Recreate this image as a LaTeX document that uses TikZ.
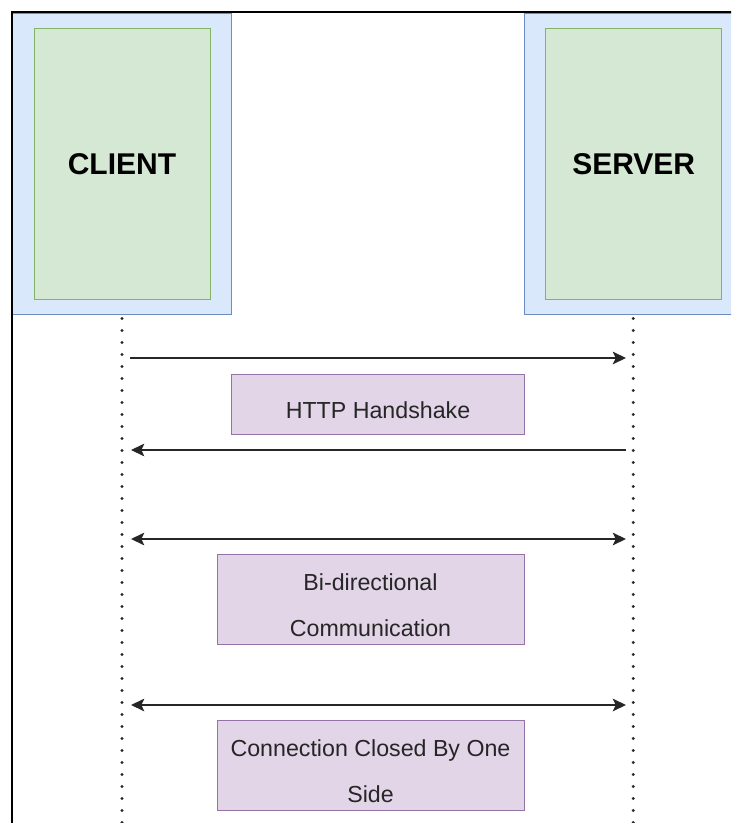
\documentclass[tikz,border=0pt]{standalone}
\usepackage{fontspec}
\setmainfont{Liberation Sans}
\usetikzlibrary{arrows.meta}

\definecolor{hostfill}{HTML}{DAE8FC}
\definecolor{hostline}{HTML}{6C8EBF}
\definecolor{namefill}{HTML}{D5E8D4}
\definecolor{nameline}{HTML}{82B366}
\definecolor{msgfill}{HTML}{E1D5E7}
\definecolor{msgline}{HTML}{9673A6}

\begin{document}
\begin{tikzpicture}[
  x=0.75pt,
  y=-0.75pt,
  hostbox/.style={
    draw=hostline,
    fill=hostfill,
    line width=0.75pt,
    inner sep=0pt,
    minimum width=164.25pt,
    minimum height=225pt
  },
  hostname/.style={
    draw=nameline,
    fill=namefill,
    line width=0.75pt,
    inner sep=0pt,
    minimum width=132pt,
    minimum height=203.25pt,
    font=\fontsize{22.5pt}{27pt}\selectfont\bfseries
  },
  msgbox/.style={
    draw=msgline,
    fill=msgfill,
    line width=0.75pt,
    inner sep=0pt
  },
  msgtext/.style={
    font=\fontsize{17.4pt}{34.5pt}\selectfont,
    text=black!85,
    align=center,
    yshift=-4.5pt
  },
  lifeline/.style={
    line width=2.4pt,
    line cap=round,
    dash pattern=on 0pt off 9pt,
    black!85
  },
  msg/.style={
    line width=1.2pt,
    black!85
  }
]
\useasboundingbox (0,0) rectangle (731,823);
\clip (0,0) rectangle (731,823);

% hosts
\node[hostbox] (clientbox) at (122.2,164) {};
\node[hostname] (client) at (122,163.8) {CLIENT};
\node[hostbox] (serverbox) at (633.7,164) {};
\node[hostname] (server) at (633.7,163.8) {SERVER};

% lifelines
\coordinate (clienttop) at (122,318.5);
\coordinate (clientbot) at (122,840);
\coordinate (servertop) at (633.3,318.5);
\coordinate (serverbot) at (633.3,840);
\draw[lifeline] (clienttop) -- (clientbot);
\draw[lifeline] (servertop) -- (serverbot);

% message boxes
\node[msgbox, minimum width=219.5pt, minimum height=45pt,
  label={[msgtext]center:HTTP Handshake}] (handshake) at (378,404) {};
\node[msgbox, minimum width=230.25pt, minimum height=67.5pt,
  label={[msgtext]center:{Bi-directional\\Communication}}] (bidir) at (370.5,599) {};
\node[msgbox, minimum width=230.25pt, minimum height=67.5pt,
  label={[msgtext]center:{Connection Closed By One\\Side}}] (closed) at (370.5,765) {};

% messages
\coordinate (c1) at (130,358);
\coordinate (s1) at (626,358);
\coordinate (c2) at (131,450);
\coordinate (s2) at (626,450);
\coordinate (c3) at (131,539);
\coordinate (s3) at (626,539);
\coordinate (c4) at (131,705);
\coordinate (s4) at (626,705);
\draw[msg,-{Stealth[length=10pt,width=9.5pt,inset=2.3pt]}] (c1) -- (s1);
\draw[msg,-{Stealth[length=10pt,width=9.5pt,inset=2.3pt]}] (s2) -- (c2);
\draw[msg,{Stealth[length=10pt,width=9.5pt,inset=2.3pt]}-{Stealth[length=10pt,width=9.5pt,inset=2.3pt]}] (c3) -- (s3);
\draw[msg,{Stealth[length=10pt,width=9.5pt,inset=2.3pt]}-{Stealth[length=10pt,width=9.5pt,inset=2.3pt]}] (c4) -- (s4);

% frame
\draw[line width=1.5pt] (12.3,840) -- (12.3,12.5) -- (740,12.5);
\end{tikzpicture}
\end{document}
